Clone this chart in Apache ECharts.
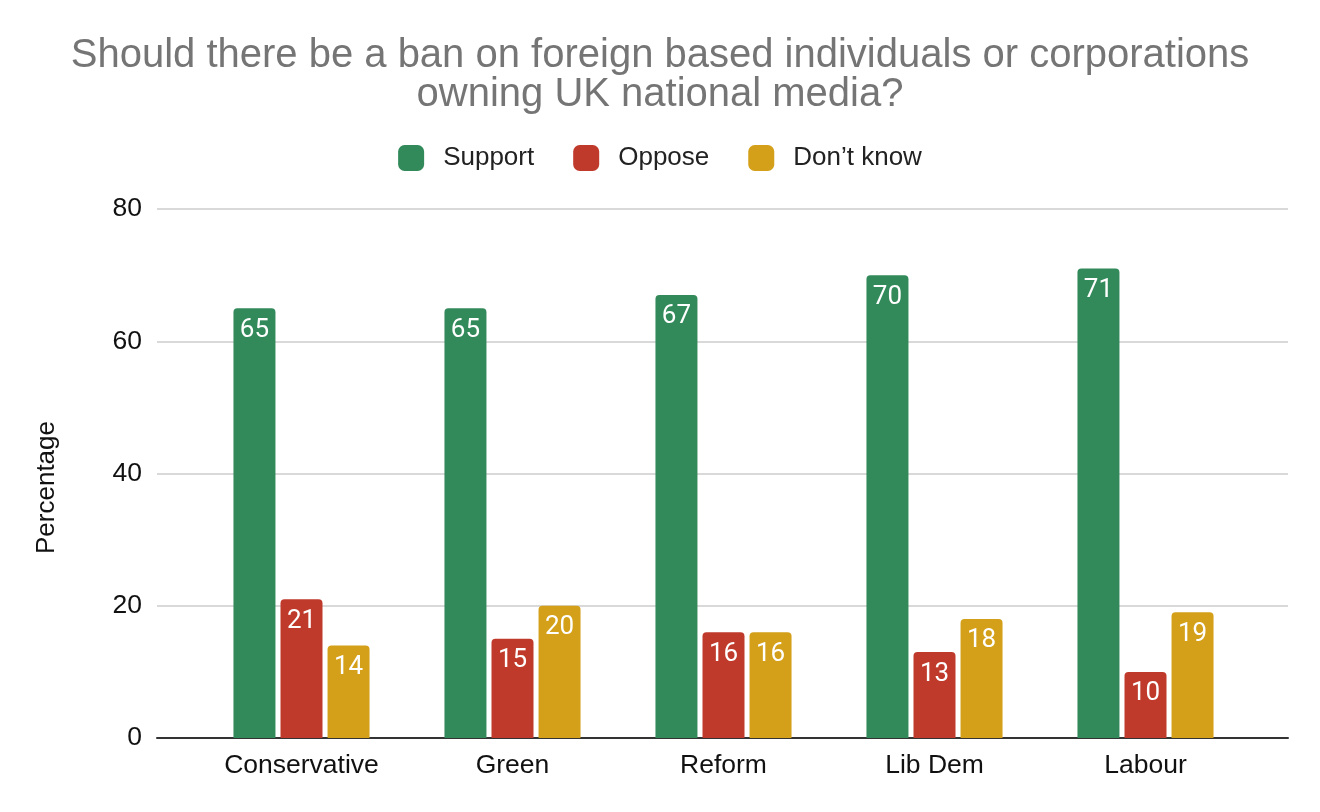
<!DOCTYPE html>
<html>
<head>
<meta charset="utf-8">
<script src="https://cdn.jsdelivr.net/npm/echarts@6/dist/echarts.min.js"></script>
<style>
  html, body { margin: 0; padding: 0; background: #fff; }
  #chart { width: 1320px; height: 812px; }
</style>
</head>
<body>
<div id="chart"></div>
<script>
// data
const parties = ['Conservative', 'Green', 'Reform', 'Lib Dem', 'Labour'];
const support = [65, 65, 67, 70, 71];
const oppose = [21, 15, 16, 13, 10];
const dontKnow = [14, 20, 16, 18, 19];
const yTicks = { min: 0, max: 80, interval: 20 };

const chart = echarts.init(document.getElementById('chart'));

const labelStyle = {
    show: true,
    position: 'insideTop',
    distance: 9,
    color: '#fff',
    fontFamily: 'Roboto',
    fontSize: 26
};

function barSeries(name, color, data) {
    return {
        name: name,
        type: 'bar',
        xAxisIndex: 1,
        yAxisIndex: 1,
        barWidth: 42,
        barGap: '12%',
        itemStyle: { color: color, borderRadius: [4, 4, 0, 0] },
        label: labelStyle,
        data: data
    };
}

const option = {
    backgroundColor: '#fff',
    title: {
        text: 'Should there be a ban on foreign based individuals or corporations\nowning UK national media?',
        left: 'center',
        top: 31,
        textStyle: {
            color: '#757575',
            fontFamily: 'Liberation Sans',
            fontWeight: 'normal',
            fontSize: 40,
            lineHeight: 39
        }
    },
    legend: {
        top: 140,
        left: 'center',
        icon: 'roundRect',
        itemWidth: 26,
        itemHeight: 26,
        itemGap: 39,
        textStyle: {
            color: '#222',
            fontFamily: 'Liberation Sans',
            fontSize: 26,
            padding: [0, 0, 0, 14]
        },
        data: ['Support', 'Oppose', 'Don’t know']
    },
    grid: [
        { left: 157, right: 32, top: 209, bottom: 74 },
        { left: 196, right: 69, top: 209, bottom: 74 }
    ],
    xAxis: [
        {
            type: 'category',
            gridIndex: 0,
            data: [''],
            axisLine: { lineStyle: { color: '#333', width: 2 } },
            axisTick: { show: false },
            axisLabel: { show: false }
        },
        {
            type: 'category',
            gridIndex: 1,
            data: parties,
            axisLine: { show: false },
            axisTick: { show: false },
            axisLabel: {
                color: '#111',
                fontFamily: 'Liberation Sans',
                fontSize: 26.5,
                margin: 14
            }
        }
    ],
    yAxis: [
        {
            type: 'value',
            gridIndex: 0,
            min: yTicks.min,
            max: yTicks.max,
            interval: yTicks.interval,
            name: 'Percentage',
            nameLocation: 'middle',
            nameGap: 97,
            nameTextStyle: {
                color: '#111',
                fontFamily: 'Liberation Sans',
                fontSize: 26,
                padding: [0, 28, 0, 0]
            },
            axisLine: { show: false },
            axisTick: { show: false },
            axisLabel: {
                color: '#111',
                fontFamily: 'Liberation Sans',
                fontSize: 26.5,
                margin: 15
            },
            splitLine: { lineStyle: { color: '#cccccc', width: 1.5 } }
        },
        {
            type: 'value',
            gridIndex: 1,
            min: yTicks.min,
            max: yTicks.max,
            interval: yTicks.interval,
            show: false,
            splitLine: { show: false }
        }
    ],
    series: [
        barSeries('Support', '#328a5a', support),
        barSeries('Oppose', '#c03a2b', oppose),
        barSeries('Don’t know', '#d4a01a', dontKnow)
    ]
};

chart.setOption(option);

window.addEventListener('resize', function() {
    chart.resize();
});
</script>
</body>
</html>
